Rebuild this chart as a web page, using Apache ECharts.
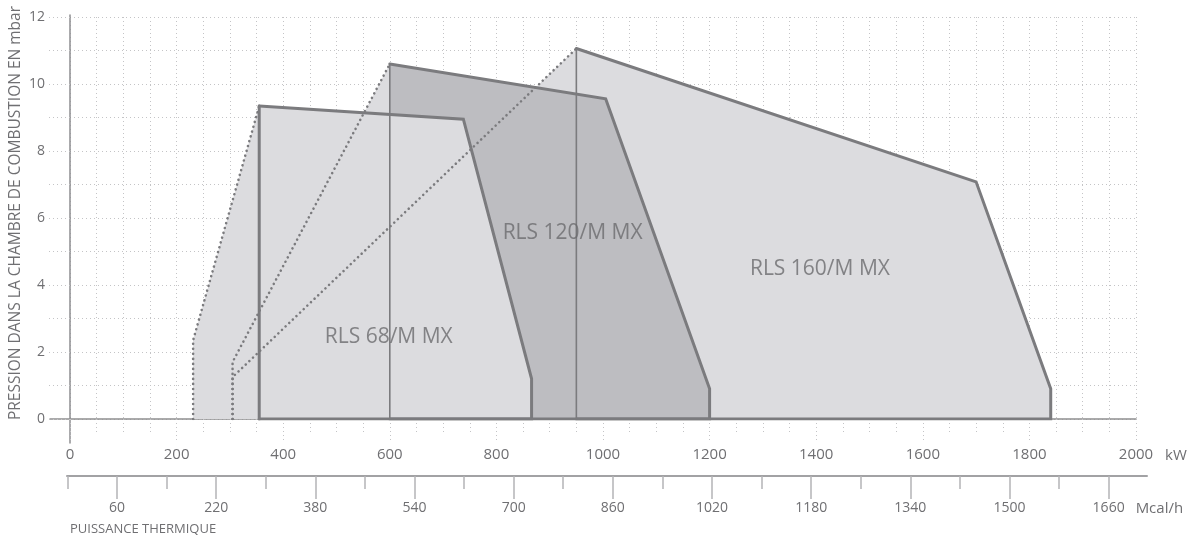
<!DOCTYPE html>
<html><head><meta charset="utf-8">
<script src="https://cdn.jsdelivr.net/npm/echarts@6/dist/echarts.min.js"></script>
<style>html,body{margin:0;padding:0;background:#fff}#c{width:1193px;height:536px}</style>
</head><body><div id="c"></div>
<script>
// ---- data (kW, mbar) ----
const burnerNames = ['RLS 68/M MX', 'RLS 120/M MX', 'RLS 160/M MX'];
const rls68  = [[231, 0], [231, 2.35], [355, 9.34], [738, 8.95], [866, 1.2], [866, 0]];
const rls120 = [[305, 0], [305, 1.7], [600, 10.6], [1005, 9.56], [1200, 0.9], [1200, 0]];
const rls160 = [[305, 0], [305, 1.25], [950, 11.06], [1700, 7.08], [1840, 0.9], [1840, 0]];
const labelPos = [[598, 2.44], [943, 5.54], [1407, 4.49]];
const kwMax = 2000, kwStep = 200;
const mbarMax = 12, mbarStep = 2;
const mcalFirstLabel = 60, mcalLastLabel = 1660, mcalLabelStep = 160, mcalTickStep = 80;

// ---- layout ----
const FONT = 'Open Sans';
const TXT = '#6f6f72';
const LINE = '#7b7b7e';
const LIGHT = '#dcdcdf';
const DARK = '#bdbdc1';
const G = { left: 70, top: 17, width: 1066, height: 402, outerBoundsMode: 'none' };
const pxPerKw = G.width / kwMax;
const pxPerMcal = pxPerKw / 0.86;
const mcalMajorLeft = 117;
const mcalMinorLeft = mcalMajorLeft - mcalTickStep * pxPerMcal;
const mcalY = 476;
const dotted = { color: '#c4c4c6', width: 1, type: [1, 3] };
const plain = v => String(v);

const chart = echarts.init(document.getElementById('c'), null, { renderer: 'canvas' });

function fill(data, color) {
  return { type: 'line', xAxisIndex: 0, yAxisIndex: 0, data, symbol: 'none', silent: true,
    lineStyle: { width: 0 }, areaStyle: { color, opacity: 1 }, z: 2 };
}
function stroke(data, width, type) {
  return { type: 'line', xAxisIndex: 0, yAxisIndex: 0, data, symbol: 'none', silent: true,
    lineStyle: { color: LINE, width, type: type || 'solid', cap: 'round', join: 'miter' }, z: 3 };
}
const burners = [rls68, rls120, rls160];
const series = [];
series.push(fill(rls160, LIGHT));
series.push(fill(rls120, LIGHT));
series.push(fill([[rls120[2][0], 0]].concat(rls120.slice(2)), DARK));
series.push(fill(rls68, LIGHT));
const vWidths = [3, 1.6, 1.6];
burners.forEach((p, i) => {
  series.push(stroke(p.slice(0, 3), 2.6, [0.01, 5]));
  series.push(stroke(p.slice(2).concat([[p[2][0], 0]]), 3));
  series.push(stroke([[p[2][0], 0], p[2]], vWidths[i]));
});
series.push({
  type: 'scatter', xAxisIndex: 0, yAxisIndex: 0, silent: true, symbolSize: 1,
  itemStyle: { color: 'rgba(0,0,0,0)' }, z: 5,
  data: labelPos.map((p, i) => ({ value: p, name: burnerNames[i] })),
  label: { show: true, position: 'inside', formatter: '{b}', fontFamily: FONT, fontSize: 21, color: '#6b6b6e' }
});

const hidden = { show: false };
const nb = 'none';
const option = {
  animation: false,
  title: { text: 'PUISSANCE THERMIQUE', left: 70, top: 523, padding: 0,
    textStyle: { fontFamily: FONT, fontSize: 13, fontWeight: 'normal', color: TXT } },
  grid: [
    G,
    { left: 50, top: G.top + G.height, width: G.left + G.width - 50, height: 0, outerBoundsMode: nb },
    { left: G.left, top: 15, width: G.width, height: 443 - 15, outerBoundsMode: nb },
    { left: 67, top: mcalY, width: 1147 - 67, height: 0, outerBoundsMode: nb },
    { left: mcalMinorLeft, top: mcalY, width: (mcalLastLabel - mcalFirstLabel + mcalTickStep) * pxPerMcal, height: 0, outerBoundsMode: nb },
    { left: mcalMajorLeft, top: mcalY, width: (mcalLastLabel - mcalFirstLabel) * pxPerMcal, height: 0, outerBoundsMode: nb }
  ],
  xAxis: [
    { gridIndex: 0, type: 'value', min: 0, max: kwMax, interval: kwStep,
      axisLine: { show: false },
      axisTick: { show: true, length: 24, lineStyle: dotted },
      minorTick: { show: true, splitNumber: 4, length: 14, lineStyle: dotted },
      splitLine: { show: true, lineStyle: dotted },
      minorSplitLine: { show: true, lineStyle: dotted },
      axisLabel: { margin: 28, fontFamily: FONT, fontSize: 15, color: TXT, formatter: plain },
      name: 'kW', nameLocation: 'end', nameGap: 29, nameMoveOverlap: false,
      nameTextStyle: { fontFamily: FONT, fontSize: 15, color: TXT, verticalAlign: 'top', padding: [29, 0, 0, 0] } },
    { gridIndex: 1, type: 'value', min: 0, max: 1,
      axisLine: { show: true, lineStyle: { color: '#8e8e90', width: 1.5 } },
      axisTick: hidden, axisLabel: hidden, splitLine: hidden },
    { gridIndex: 2, type: 'value', show: false },
    { gridIndex: 3, type: 'value', min: 0, max: 1,
      axisLine: { show: true, lineStyle: { color: '#a2a2a4', width: 2 } },
      axisTick: hidden, axisLabel: hidden, splitLine: hidden },
    { gridIndex: 4, type: 'value', min: 0, max: mcalLastLabel - mcalFirstLabel + mcalTickStep, interval: mcalTickStep,
      axisLine: { show: false },
      axisTick: { show: true, length: 13, lineStyle: { color: '#b4b4b6', width: 1.5 } },
      axisLabel: hidden, splitLine: hidden },
    { gridIndex: 5, type: 'value', min: 0, max: mcalLastLabel - mcalFirstLabel, interval: mcalLabelStep,
      axisLine: { show: false },
      axisTick: { show: true, length: 23, lineStyle: { color: '#b4b4b6', width: 1.5 } },
      axisLabel: { margin: 25, fontFamily: FONT, fontSize: 14, color: TXT, formatter: v => String(v + mcalFirstLabel) },
      splitLine: hidden,
      name: 'Mcal/h', nameLocation: 'end', nameGap: 27, nameMoveOverlap: false,
      nameTextStyle: { fontFamily: FONT, fontSize: 15, color: TXT, verticalAlign: 'top', padding: [25, 0, 0, 0] } }
  ],
  yAxis: [
    { gridIndex: 0, type: 'value', min: 0, max: mbarMax, interval: mbarStep,
      axisLine: { show: false },
      axisTick: { show: true, length: 22, lineStyle: dotted },
      minorTick: { show: true, splitNumber: 2, length: 22, lineStyle: dotted },
      splitLine: { show: true, lineStyle: dotted },
      minorSplitLine: { show: true, lineStyle: dotted },
      axisLabel: { margin: 25, fontFamily: FONT, fontSize: 14, color: TXT, formatter: plain },
      name: 'PRESSION DANS LA CHAMBRE DE COMBUSTION EN mbar', nameLocation: 'middle', nameGap: 46,
      nameMoveOverlap: false,
      nameTextStyle: { fontFamily: FONT, fontSize: 15.5, color: TXT, padding: [0, 0, 0, 10] } },
    { gridIndex: 1, type: 'value', show: false },
    { gridIndex: 2, type: 'value', min: 0, max: 1,
      axisLine: { show: true, lineStyle: { color: '#8e8e90', width: 1.5 } },
      axisTick: hidden, axisLabel: hidden, splitLine: hidden },
    { gridIndex: 3, type: 'value', show: false },
    { gridIndex: 4, type: 'value', show: false },
    { gridIndex: 5, type: 'value', show: false }
  ],
  series
};
chart.setOption(option);
</script></body></html>
